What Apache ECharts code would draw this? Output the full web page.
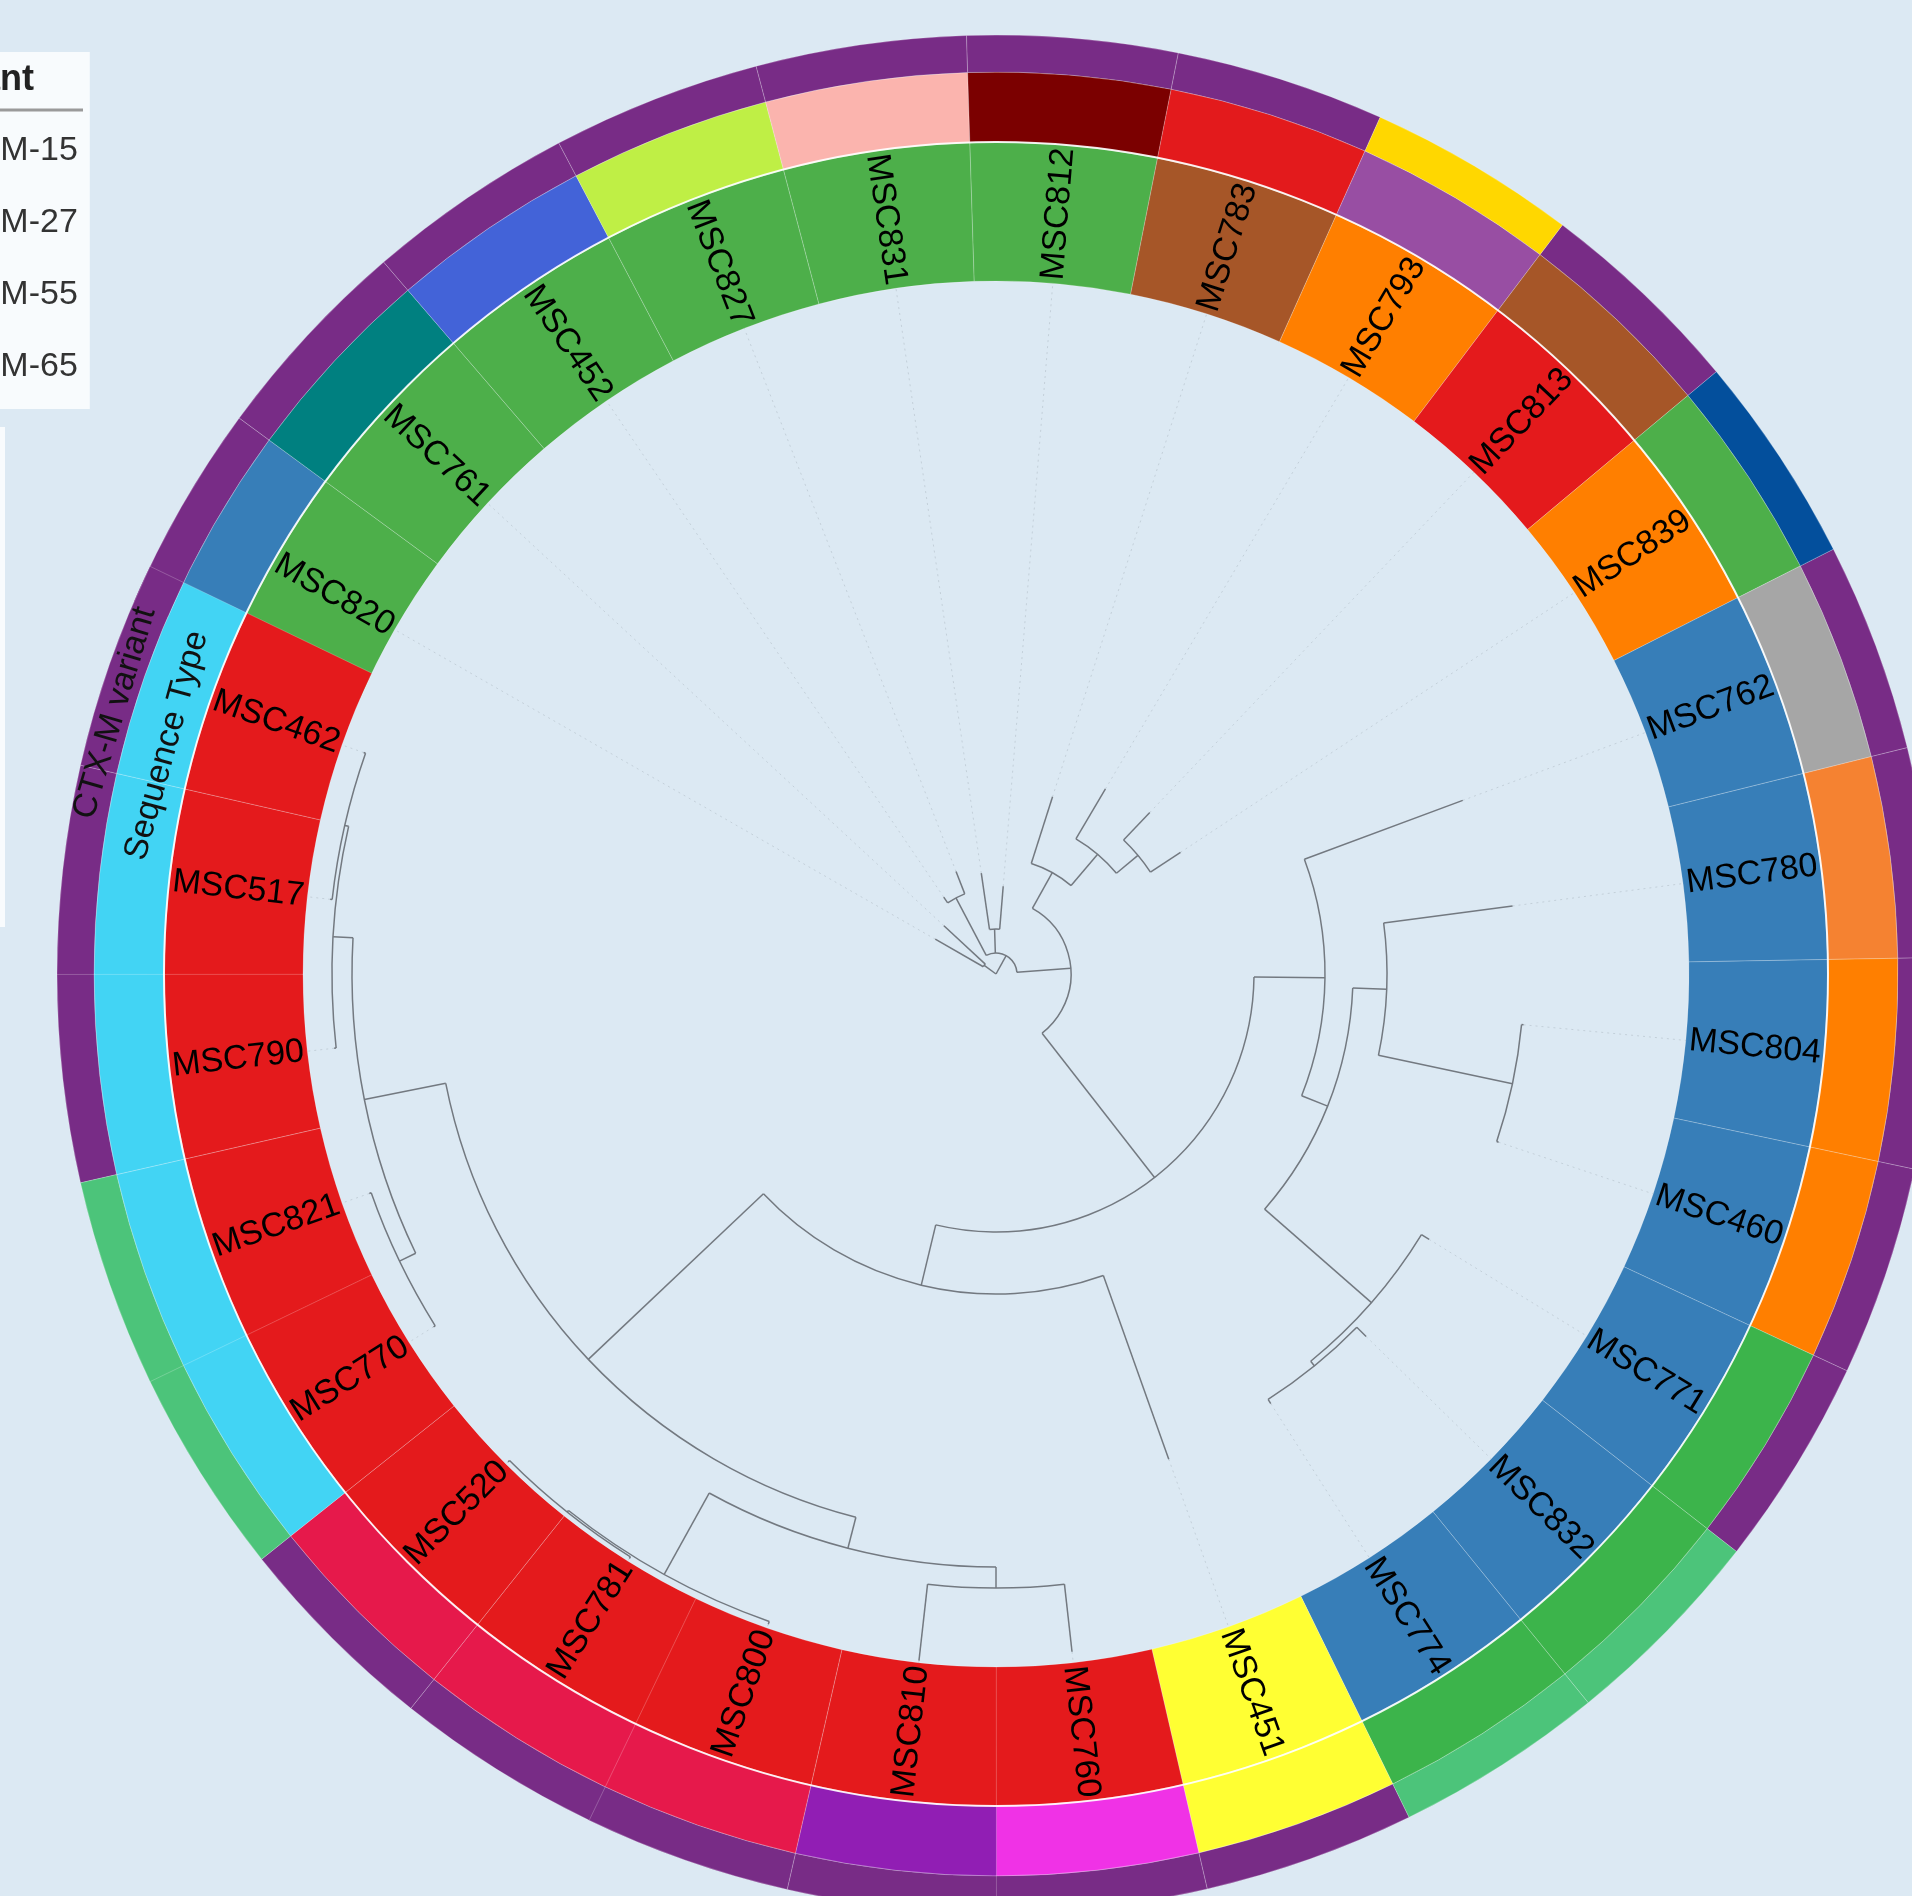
<!DOCTYPE html>
<html>
<head>
<meta charset="utf-8">
<title>CTX-M phylogeny</title>
<script src="https://cdn.jsdelivr.net/npm/echarts@6.0.0/dist/echarts.min.js"></script>
<style>
  html, body { margin: 0; padding: 0; background: #dce9f3; }
  #chart { width: 1912px; height: 1896px; }
</style>
</head>
<body>
<div id="chart"></div>
<script>
// leaves in ring order, clockwise from 12 o'clock
const leaves = ['MSC812', 'MSC783', 'MSC793', 'MSC813', 'MSC839', 'MSC762', 'MSC780',
  'MSC804', 'MSC460', 'MSC771', 'MSC832', 'MSC774', 'MSC451', 'MSC760', 'MSC810',
  'MSC800', 'MSC781', 'MSC520', 'MSC770', 'MSC821', 'MSC790', 'MSC517', 'MSC462',
  'MSC820', 'MSC761', 'MSC452', 'MSC827', 'MSC831']
// angle of each leaf (degrees, clockwise from top)
const leafAngle = [4.7, 17.7, 30.6, 43.6, 56.6, 69.6, 82.5,
  95.5, 108.5, 121.5, 134.4, 147.4, 160.4, 173.6, 186.4,
  199.3, 212.1, 225.0, 237.9, 250.7, 263.6, 276.4, 289.3,
  299.8, 312.8, 325.8, 338.7, 351.7]
// depth of each leaf tip (radius units)
const leafDepth = [88, 186, 215, 223, 221, 498, 521,
  530, 530, 508, 518, 510, 515, 682, 691,
  689, 690, 690, 664, 664, 666, 670, 670,
  70, 71, 93, 110, 102]
const clade = ['G', 'Br', 'O', 'R', 'O', 'B', 'B',
  'B', 'B', 'B', 'B', 'B', 'Y', 'R', 'R',
  'R', 'R', 'R', 'R', 'R', 'R', 'R', 'R',
  'G', 'G', 'G', 'G', 'G']
const seqType = ['s01', 's02', 's03', 's04', 's05', 's06', 's07',
  's08', 's08', 's09', 's09', 's09', 's10', 's11', 's12',
  's13', 's13', 's13', 's14', 's14', 's14', 's14', 's14',
  's15', 's16', 's17', 's18', 's19']
const ctxVariant = ['CTX-M-15', 'CTX-M-15', 'CTX-M-65', 'CTX-M-15', 'CTX-M-55', 'CTX-M-15', 'CTX-M-15',
  'CTX-M-15', 'CTX-M-15', 'CTX-M-15', 'CTX-M-27', 'CTX-M-27', 'CTX-M-15', 'CTX-M-15', 'CTX-M-15',
  'CTX-M-15', 'CTX-M-15', 'CTX-M-15', 'CTX-M-27', 'CTX-M-27', 'CTX-M-15', 'CTX-M-15', 'CTX-M-15',
  'CTX-M-15', 'CTX-M-15', 'CTX-M-15', 'CTX-M-15', 'CTX-M-15']
const variants = ['CTX-M-15', 'CTX-M-27', 'CTX-M-55', 'CTX-M-65']

// internal nodes, children listed clockwise
const nodeId = ['root', 'A', 'B', 'D', 'E', 'N1', 'N2', 'N3', 'N4', 'N5', 'N9', 'N10', 'N11',
  'N12', 'N13', 'N14', 'N6', 'N7', 'N15', 'N18', 'N16', 'N17', 'N19', 'N21', 'N20', 'N22']
const nodeDepth = [0, 14.6, 21, 86, 45, 75, 116, 157, 185, 258, 329, 357, 391,
  528, 499, 505, 320, 561, 593, 614, 686, 688, 644, 662, 664, 668]
const nodeKids = [
  ['A', 'B'],
  ['MSC820', 'MSC761'],
  ['D', 'E', 'N1'],
  ['MSC452', 'MSC827'],
  ['MSC831', 'MSC812'],
  ['N2', 'N5'],
  ['MSC783', 'N3'],
  ['MSC793', 'N4'],
  ['MSC813', 'MSC839'],
  ['N9', 'N6'],
  ['MSC762', 'N10'],
  ['N11', 'N13'],
  ['MSC780', 'N12'],
  ['MSC804', 'MSC460'],
  ['MSC771', 'N14'],
  ['MSC832', 'MSC774'],
  ['MSC451', 'N7'],
  ['N15', 'N19'],
  ['N18', 'N16'],
  ['MSC760', 'MSC810'],
  ['MSC800', 'N17'],
  ['MSC781', 'MSC520'],
  ['N21', 'N20'],
  ['MSC770', 'MSC821'],
  ['MSC790', 'N22'],
  ['MSC517', 'MSC462']
]

const cladeColors = { G: '#4daf4a', Br: '#a65628', O: '#ff7f00', R: '#e41a1c', B: '#377eb8', Y: '#ffff33' }
const stColors = {
  s01: '#7b0000', s02: '#e31a1c', s03: '#984ea3', s04: '#a65628', s05: '#4daf4a',
  s06: '#a6a6a6', s07: '#f58231', s08: '#ff7f00', s09: '#3cb44b', s10: '#ffff33',
  s11: '#f032e6', s12: '#911eb4', s13: '#e6194b', s14: '#42d4f4', s15: '#377eb8',
  s16: '#008080', s17: '#4363d8', s18: '#bfef45', s19: '#fbb4ae'
}
const ctxColors = { 'CTX-M-15': '#782c86', 'CTX-M-27': '#4cc47a', 'CTX-M-55': '#034f9c', 'CTX-M-65': '#ffd700' }

// ring geometry (radius units, 1 unit = 1px)
const R_IN = 693
const R_LABEL = 832
const R_ST = 902
const R_OUT = 939
const CENTER = [996, 974]
const FONT = '"Liberation Sans", Arial, sans-serif'

// wedges: one slot wide around each leaf, stretched to meet a neighbour if there is a gap
const n = leaves.length
const half = 180 / n
const wedgeFrom = leaves.map((l, i) => {
  let prev = leafAngle[(i + n - 1) % n]
  if (prev > leafAngle[i]) prev -= 360
  return Math.min(leafAngle[i] - half, (prev + leafAngle[i]) / 2)
})
const wedgeTo = leaves.map((l, i) => {
  let next = leafAngle[(i + 1) % n]
  if (next < leafAngle[i]) next += 360
  return Math.max(leafAngle[i] + half, (next + leafAngle[i]) / 2)
})
// wedges are painted in tree order (MSC820 first, MSC462 last)
const paintOrder = leaves.map((l, i) => (i + leaves.indexOf('MSC820')) % n)

// tree layout: node angle = midpoint of first and last child
const angleOf = {}
const depthOf = {}
const kidsOf = {}
leaves.forEach((l, i) => { angleOf[l] = leafAngle[i]; depthOf[l] = leafDepth[i] })
nodeId.forEach((id, i) => { kidsOf[id] = nodeKids[i]; depthOf[id] = nodeDepth[i] })

const segs = []
function layout(id) {
  if (!kidsOf[id]) return angleOf[id]
  const a = kidsOf[id].map(layout)
  for (let i = 1; i < a.length; i++) {
    while (a[i] < a[i - 1]) a[i] += 360
  }
  kidsOf[id].forEach((k, i) => segs.push([depthOf[id], a[i], depthOf[k], a[i], 0]))
  if (depthOf[id] > 0) segs.push([depthOf[id], a[0], depthOf[id], a[a.length - 1], 1])
  angleOf[id] = (a[0] + a[a.length - 1]) / 2
  return angleOf[id]
}
layout('root')
leaves.forEach((l, i) => segs.push([leafDepth[i], leafAngle[i], R_IN, leafAngle[i], 2]))

function pix(api, cs, r, a) {
  const p = api.coord([r, ((a % 360) + 360) % 360])
  return { x: p[0], y: p[1], r: Math.hypot(p[0] - cs.cx, p[1] - cs.cy), t: Math.atan2(p[1] - cs.cy, p[0] - cs.cx) }
}

function renderTree(params, api) {
  const cs = params.coordSys
  const p0 = pix(api, cs, api.value(0), api.value(1))
  const p1 = pix(api, cs, api.value(2), api.value(3))
  const kind = api.value(4)
  if (kind === 1) {
    return {
      type: 'arc',
      shape: { cx: cs.cx, cy: cs.cy, r: p0.r, startAngle: p0.t, endAngle: p1.t, clockwise: true },
      style: { fill: null, stroke: '#737980', lineWidth: 1.5 }
    }
  }
  return {
    type: 'line',
    shape: { x1: p0.x, y1: p0.y, x2: p1.x, y2: p1.y },
    style: kind === 2
      ? { stroke: 'rgba(150,160,170,0.35)', lineWidth: 1, lineDash: [2, 4] }
      : { stroke: '#737980', lineWidth: 1.5 }
  }
}

// ring wedge: [innerRadius, outerRadius, fromAngle, toAngle, leafIndex]
function makeRing(colorOf) {
  return function (params, api) {
    const cs = params.coordSys
    const a = pix(api, cs, api.value(0), api.value(2))
    const b = pix(api, cs, api.value(1), api.value(3))
    return {
      type: 'sector',
      shape: { cx: cs.cx, cy: cs.cy, r0: a.r, r: b.r, startAngle: a.t, endAngle: b.t, clockwise: true },
      style: { fill: colorOf(api.value(4), api), stroke: 'rgba(255,255,255,0.22)', lineWidth: 1 }
    }
  }
}

function renderLeafLabel(params, api) {
  const cs = params.coordSys
  const p = pix(api, cs, api.value(0), api.value(1))
  const compass = (p.t * 180 / Math.PI + 450) % 360
  const rot = compass < 180 ? 90 - compass : 270 - compass
  return {
    type: 'text',
    x: p.x,
    y: p.y,
    rotation: rot * Math.PI / 180,
    style: {
      text: leaves[params.dataIndex],
      fill: '#000',
      fontSize: 34,
      fontFamily: FONT,
      align: 'center',
      verticalAlign: 'middle'
    }
  }
}

const ringTitles = ['Sequence Type', 'CTX-M variant']
function renderRingTitle(params, api) {
  const p = api.coord([api.value(0), api.value(1)])
  return {
    type: 'text',
    x: p[0],
    y: p[1],
    rotation: -api.value(1) * Math.PI / 180,
    style: {
      text: ringTitles[params.dataIndex],
      fill: '#111',
      fontSize: 34,
      fontFamily: FONT,
      align: 'center',
      verticalAlign: 'middle'
    }
  }
}

function renderSeparator(params, api) {
  const cs = params.coordSys
  const p = pix(api, cs, api.value(0), 0)
  return {
    type: 'circle',
    shape: { cx: cs.cx, cy: cs.cy, r: p.r },
    style: { fill: null, stroke: 'rgba(255,255,255,0.9)', lineWidth: 2 }
  }
}

const ringData = (r0, r1) => paintOrder.map(i => [r0, r1, wedgeFrom[i], wedgeTo[i], i])

const ctxSeries = variants.map(v => ({
  name: v,
  type: 'custom',
  coordinateSystem: 'polar',
  silent: true,
  z: 2,
  itemStyle: { color: ctxColors[v] },
  renderItem: makeRing((i, api) => api.visual('color')),
  data: ringData(R_ST, R_OUT).filter(d => ctxVariant[d[4]] === v)
}))

const hidden = { show: false }
const chart = echarts.init(document.getElementById('chart'), null, { renderer: 'canvas' })
chart.setOption({
  animation: false,
  backgroundColor: '#dce9f3',
  polar: { center: CENTER, radius: R_OUT },
  angleAxis: {
    type: 'value', min: 0, max: 360, startAngle: 90, clockwise: true,
    axisLine: hidden, axisTick: hidden, axisLabel: hidden, splitLine: hidden, splitArea: hidden
  },
  radiusAxis: {
    type: 'value', min: 0, max: R_OUT,
    axisLine: hidden, axisTick: hidden, axisLabel: hidden, splitLine: hidden, splitArea: hidden
  },
  legend: {
    orient: 'vertical',
    left: -119,
    top: 52,
    data: variants,
    icon: 'rect',
    itemWidth: 25,
    itemHeight: 14,
    itemGap: 32,
    selectedMode: false,
    backgroundColor: 'rgba(255,255,255,0.8)',
    padding: [79, 12, 22, 10],
    textStyle: { fontSize: 34, fontFamily: FONT, color: '#333', lineHeight: 40 }
  },
  graphic: [
    {
      type: 'rect', z: 100,
      shape: { x: -300, y: 427, width: 305, height: 500 },
      style: { fill: 'rgba(255,255,255,0.8)' }
    },
    {
      type: 'text', z: 100, x: 34, y: 80,
      style: {
        text: 'CTX-M variant', fill: '#222', fontSize: 36, fontWeight: 'bold', fontFamily: FONT,
        align: 'right', verticalAlign: 'middle'
      }
    },
    {
      type: 'line', z: 100,
      shape: { x1: -300, y1: 110, x2: 83, y2: 110 },
      style: { stroke: '#9a9a9a', lineWidth: 3 }
    }
  ],
  series: [
    {
      name: 'clade', type: 'custom', coordinateSystem: 'polar', silent: true, z: 2,
      renderItem: makeRing(i => cladeColors[clade[i]]),
      data: ringData(R_IN, R_LABEL)
    },
    {
      name: 'Sequence Type', type: 'custom', coordinateSystem: 'polar', silent: true, z: 2,
      renderItem: makeRing(i => stColors[seqType[i]]),
      data: ringData(R_LABEL, R_ST)
    },
    ...ctxSeries,
    {
      type: 'custom', coordinateSystem: 'polar', silent: true, z: 3,
      renderItem: renderSeparator,
      data: [[R_LABEL, 0]]
    },
    {
      type: 'custom', coordinateSystem: 'polar', silent: true, z: 3,
      renderItem: renderTree,
      data: segs
    },
    {
      type: 'custom', coordinateSystem: 'polar', silent: true, z: 4,
      renderItem: renderLeafLabel,
      data: leaves.map((l, i) => [(R_IN + R_LABEL) / 2, leafAngle[i]])
    },
    {
      type: 'custom', coordinateSystem: 'polar', silent: true, z: 4,
      renderItem: renderRingTitle,
      data: [[860, 285.4], [919, 286.5]]
    }
  ]
})
</script>
</body>
</html>
